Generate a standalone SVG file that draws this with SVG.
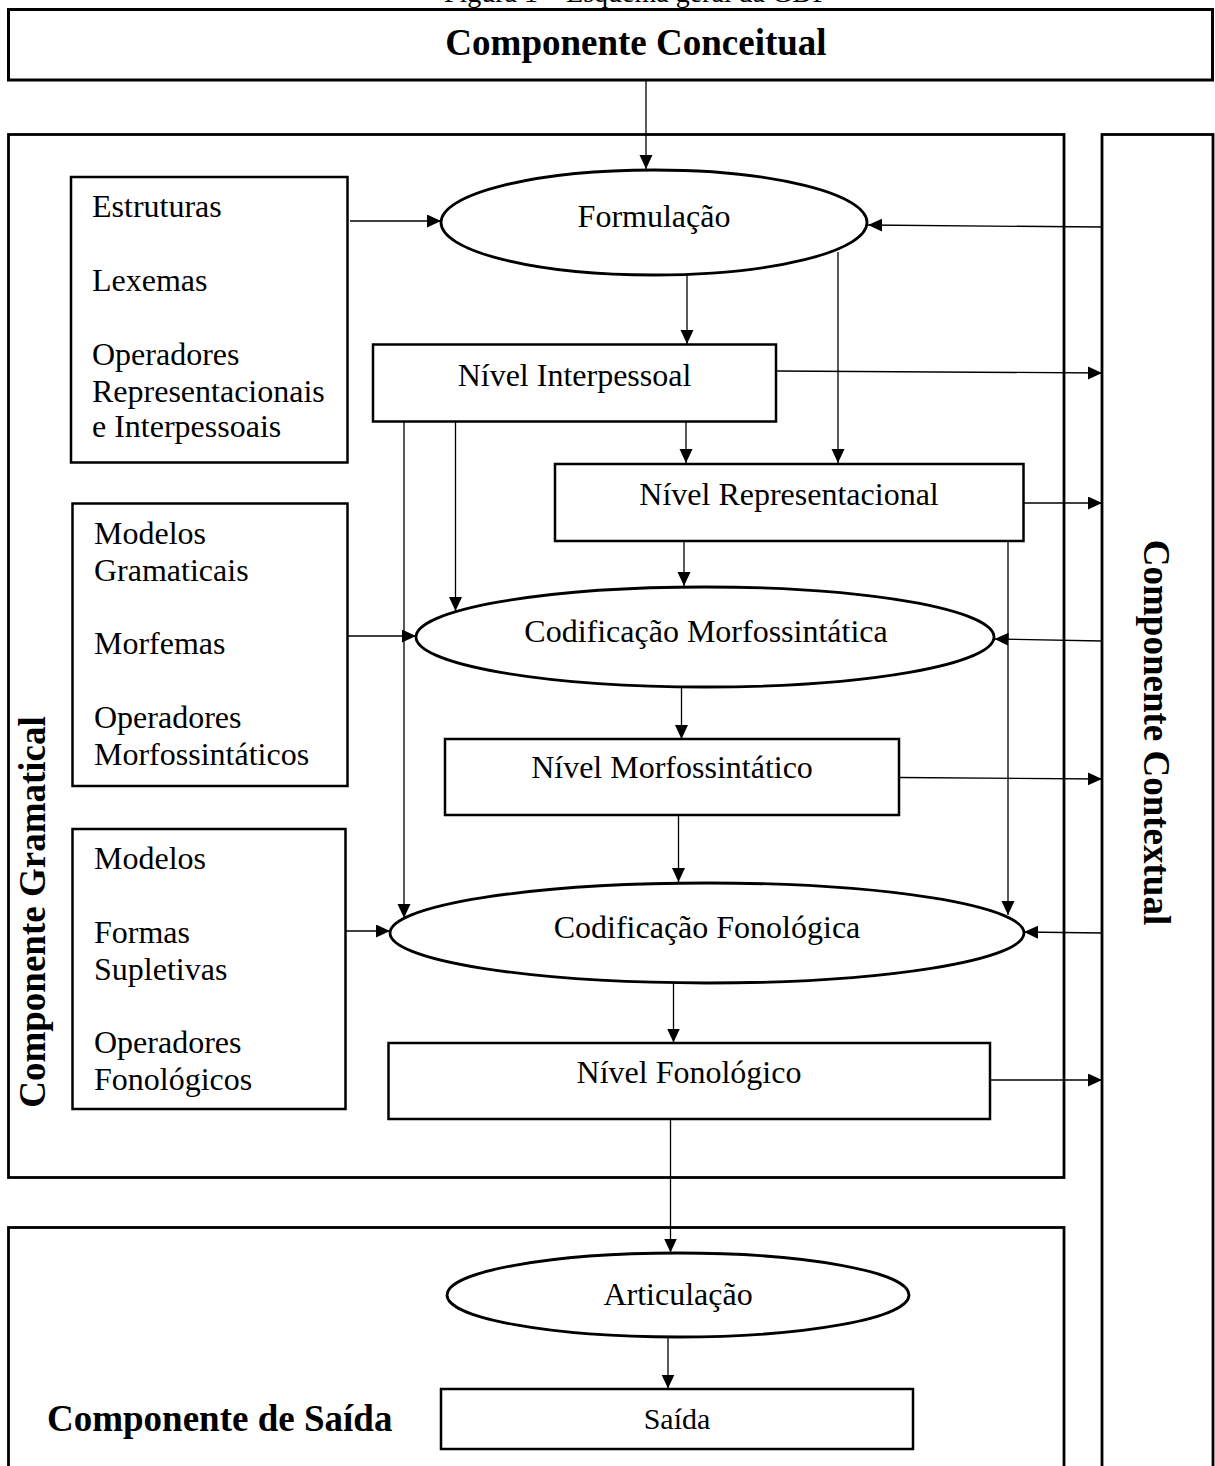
<svg xmlns="http://www.w3.org/2000/svg" width="1215" height="1466" viewBox="0 0 1215 1466">
<style>
.bg{fill:#fff}
.box{fill:#fff;stroke:#000;stroke-width:2.5}
.big{fill:none;stroke:#000;stroke-width:2.8}
.ell{fill:#fff;stroke:#000;stroke-width:2.8}
.t{font-family:"Liberation Serif","Times New Roman",serif;font-size:32px;fill:#000}
.c{text-anchor:middle}
.b{font-family:"Liberation Serif","Times New Roman",serif;font-size:37px;font-weight:bold;fill:#000}
.ln{fill:none;stroke:#000;stroke-width:1.3}
.ar{marker-end:url(#ah)}
</style>
<defs>
<marker id="ah" markerUnits="userSpaceOnUse" markerWidth="15" markerHeight="14" refX="14" refY="6.5" orient="auto">
<path d="M0,0 L14,6.5 L0,13 Z" fill="#000"/>
</marker>
</defs>
<rect class="bg" x="0" y="0" width="1215" height="1466"/>
<text class="t c" x="636" y="2" style="font-size:28px">Figura 1 – Esquema geral da GDF</text>

<g id="conceitual">
<rect class="big" x="8.5" y="9.5" width="1204" height="70.5" style="stroke-width:3"/>
<text class="b c" x="636" y="55">Componente Conceitual</text>
</g>

<g id="gramatical">
<rect class="big" x="8.5" y="134.5" width="1055.5" height="1043"/>
<text class="b c" transform="translate(45,912) rotate(-90)">Componente Gramatical</text>
</g>

<g id="contextual">
<rect class="big" x="1102" y="134.5" width="111" height="1345"/>
<text class="b c" transform="translate(1144,732.5) rotate(90)">Componente Contextual</text>
</g>

<g id="saida-comp">
<rect class="big" x="8.5" y="1227.5" width="1055.5" height="260"/>
<text class="b" x="47" y="1431">Componente de Saída</text>
</g>

<g id="box-estruturas">
<rect class="box" x="71" y="177" width="276.5" height="285.5"/>
<text class="t" x="92" y="217">Estruturas</text>
<text class="t" x="92" y="291">Lexemas</text>
<text class="t" x="92" y="365">Operadores</text>
<text class="t" x="92" y="401.5">Representacionais</text>
<text class="t" x="92" y="437">e Interpessoais</text>
</g>

<g id="box-modelos-gram">
<rect class="box" x="72.5" y="503.5" width="275" height="282.5"/>
<text class="t" x="94" y="544">Modelos</text>
<text class="t" x="94" y="581">Gramaticais</text>
<text class="t" x="94" y="654">Morfemas</text>
<text class="t" x="94" y="728">Operadores</text>
<text class="t" x="94" y="765">Morfossintáticos</text>
</g>

<g id="box-modelos-fon">
<rect class="box" x="72.5" y="829" width="273" height="280"/>
<text class="t" x="94" y="869">Modelos</text>
<text class="t" x="94" y="943">Formas</text>
<text class="t" x="94" y="980">Supletivas</text>
<text class="t" x="94" y="1053">Operadores</text>
<text class="t" x="94" y="1090">Fonológicos</text>
</g>

<g id="formulacao">
<ellipse class="ell" cx="654" cy="222.5" rx="213" ry="52.5"/>
<text class="t c" x="654" y="227">Formulação</text>
</g>

<g id="nivel-interpessoal">
<rect class="box" x="373" y="344.5" width="403" height="77"/>
<text class="t c" x="574.5" y="386">Nível Interpessoal</text>
</g>

<g id="nivel-representacional">
<rect class="box" x="555" y="464" width="468.5" height="77"/>
<text class="t c" x="789" y="505">Nível Representacional</text>
</g>

<g id="cod-morfossintatica">
<ellipse class="ell" cx="705" cy="637" rx="289" ry="50"/>
<text class="t c" x="706" y="642">Codificação Morfossintática</text>
</g>

<g id="nivel-morfossintatico">
<rect class="box" x="445" y="739" width="454" height="76"/>
<text class="t c" x="672" y="778">Nível Morfossintático</text>
</g>

<g id="cod-fonologica">
<ellipse class="ell" cx="707" cy="933" rx="317" ry="50"/>
<text class="t c" x="707" y="938">Codificação Fonológica</text>
</g>

<g id="nivel-fonologico">
<rect class="box" x="388.5" y="1043" width="601.5" height="76"/>
<text class="t c" x="689" y="1083">Nível Fonológico</text>
</g>

<g id="articulacao">
<ellipse class="ell" cx="678" cy="1295" rx="231" ry="42"/>
<text class="t c" x="678" y="1305">Articulação</text>
</g>

<g id="saida">
<rect class="box" x="441" y="1389" width="472" height="60"/>
<text class="t c" x="677" y="1429" style="font-size:30px">Saída</text>
</g>

<g id="connectors">
<line class="ln ar" x1="646" y1="80" x2="646" y2="169"/>
<line class="ln ar" x1="350" y1="221" x2="441" y2="221"/>
<line class="ln ar" x1="1102" y1="227" x2="868" y2="225"/>
<line class="ln ar" x1="687" y1="275" x2="687" y2="344"/>
<line class="ln ar" x1="838" y1="252" x2="838" y2="463"/>
<line class="ln ar" x1="776" y1="371" x2="1102" y2="373"/>
<line class="ln ar" x1="686" y1="421.5" x2="686" y2="463"/>
<line class="ln ar" x1="404" y1="421.5" x2="404" y2="918"/>
<line class="ln ar" x1="455.5" y1="421.5" x2="455.5" y2="611"/>
<line class="ln ar" x1="1023.5" y1="503" x2="1102" y2="503"/>
<line class="ln ar" x1="684" y1="541" x2="684" y2="586"/>
<line class="ln ar" x1="1008" y1="541" x2="1008" y2="915"/>
<line class="ln ar" x1="347.5" y1="636" x2="416" y2="636"/>
<line class="ln ar" x1="1102" y1="641" x2="994.5" y2="639"/>
<line class="ln ar" x1="681.5" y1="687" x2="681.5" y2="739"/>
<line class="ln ar" x1="899" y1="777.5" x2="1102" y2="779"/>
<line class="ln ar" x1="678.5" y1="815" x2="678.5" y2="882"/>
<line class="ln ar" x1="345.5" y1="931" x2="390" y2="931"/>
<line class="ln ar" x1="1102" y1="933" x2="1024" y2="932"/>
<line class="ln ar" x1="673.5" y1="983" x2="673.5" y2="1042.5"/>
<line class="ln ar" x1="990" y1="1080" x2="1102" y2="1080"/>
<line class="ln ar" x1="670.5" y1="1119" x2="670.5" y2="1252.5"/>
<line class="ln ar" x1="668" y1="1337" x2="668" y2="1388.5"/>
</g>
</svg>
